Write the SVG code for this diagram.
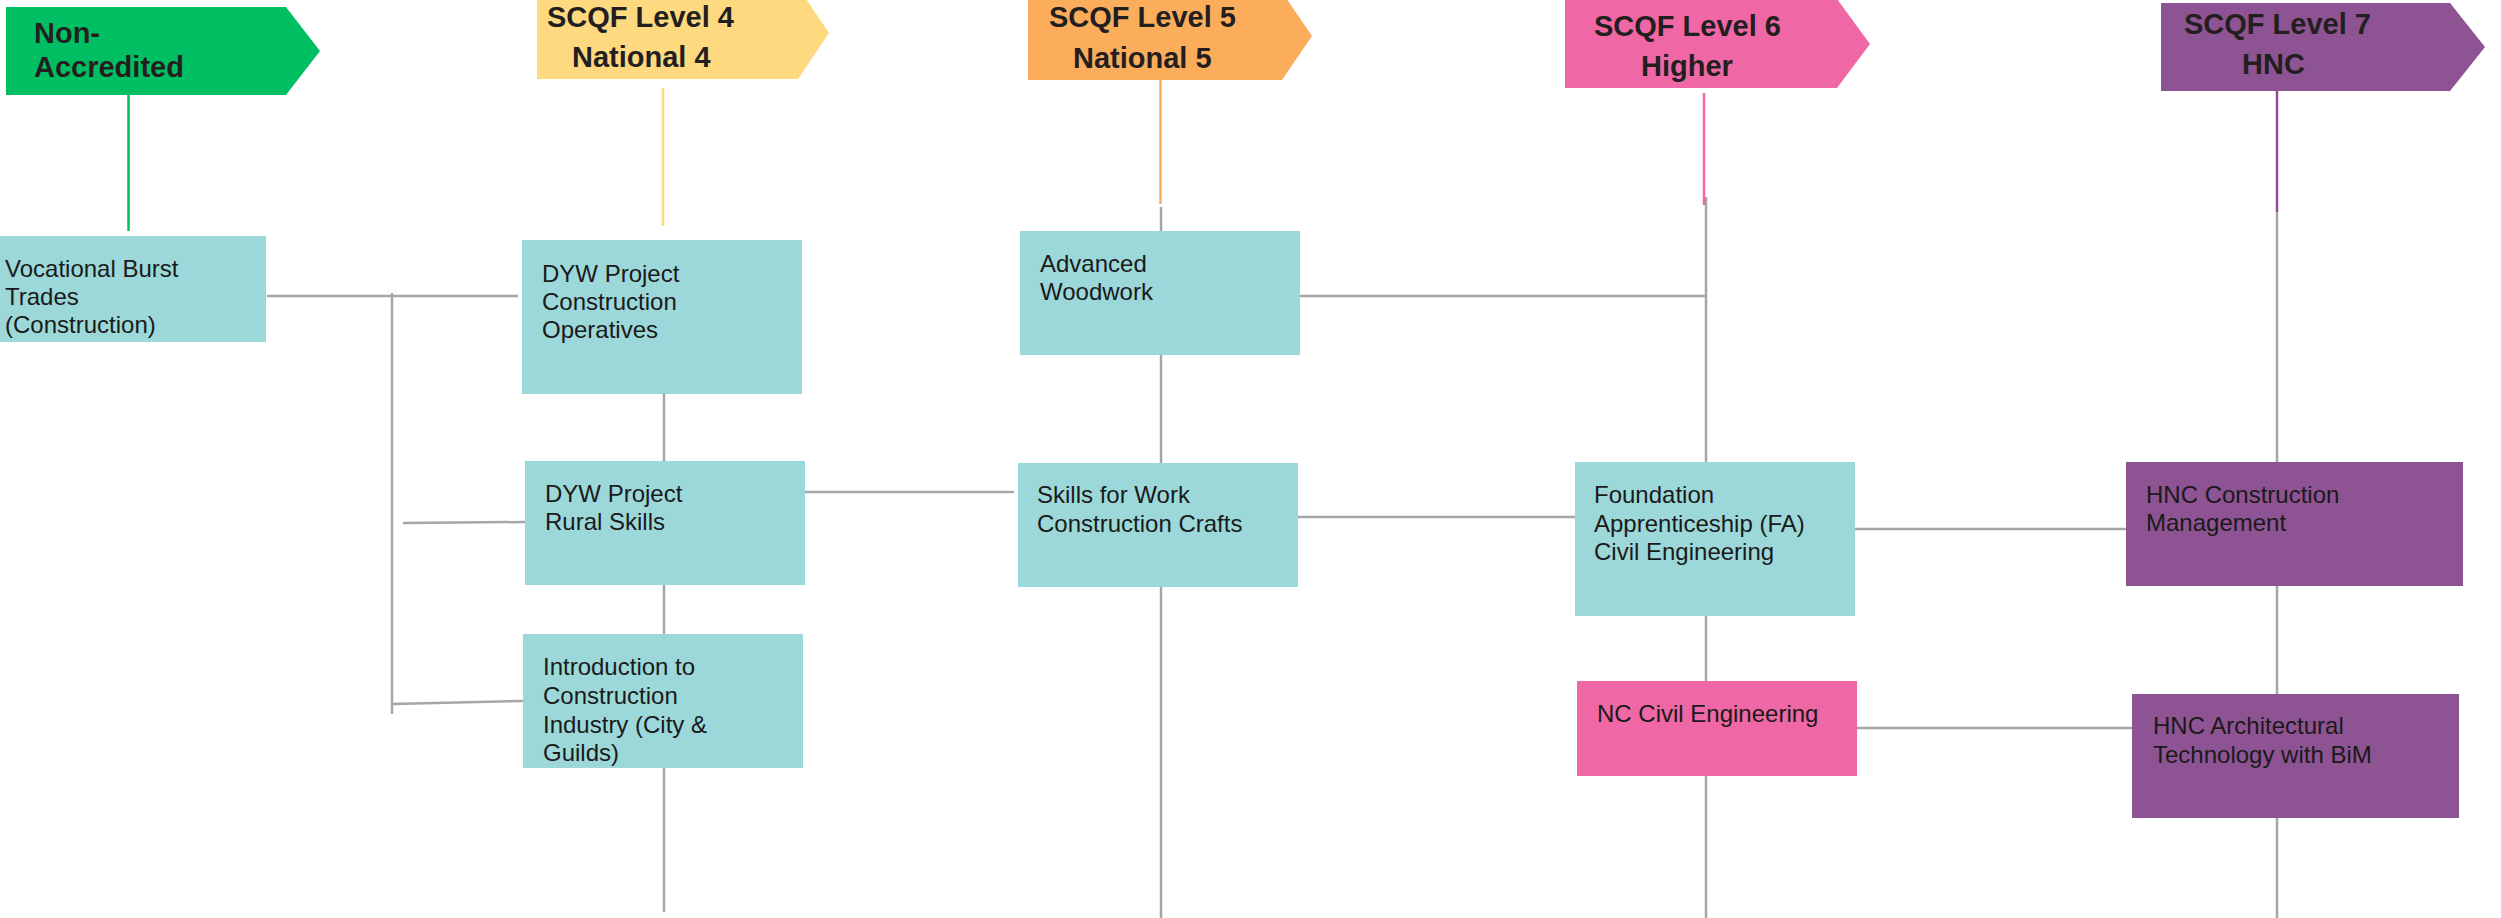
<svg xmlns="http://www.w3.org/2000/svg" width="2501" height="918" viewBox="0 0 2501 918">
<style>
.hd{font-family:"Liberation Sans",Arial,sans-serif;font-weight:bold;font-size:29px;fill:#231f20}
.lb{font-family:"Liberation Sans",Arial,sans-serif;font-size:24px;fill:#1a1a1a}
.gl{stroke:#a6a6a6;stroke-width:2.5;fill:none}
.teal{fill:#9cd8d9}
.pink{fill:#ef67a4}
.purp{fill:#8e5393}
</style>
<rect width="2501" height="918" fill="#ffffff"/>
<g id="connectors">
<line class="gl" x1="392" y1="293" x2="392" y2="714"/>
<line class="gl" x1="664" y1="394" x2="664" y2="912"/>
<line class="gl" x1="1161" y1="207" x2="1161" y2="918"/>
<line class="gl" x1="1706" y1="197" x2="1706" y2="918"/>
<line class="gl" x1="2277" y1="212" x2="2277" y2="918"/>
<line class="gl" x1="267" y1="296" x2="518" y2="296"/>
<line class="gl" x1="403" y1="523" x2="525" y2="522"/>
<line class="gl" x1="393" y1="704" x2="523" y2="701"/>
<line class="gl" x1="805" y1="492" x2="1014" y2="492"/>
<line class="gl" x1="1300" y1="296" x2="1706" y2="296"/>
<line class="gl" x1="1298" y1="517" x2="1575" y2="517"/>
<line class="gl" x1="1855" y1="529" x2="2127" y2="529"/>
<line class="gl" x1="1856" y1="728" x2="2132" y2="728"/>
<line stroke="#00bf63" stroke-width="2.5" x1="128.5" y1="95" x2="128.5" y2="231"/>
<line stroke="#fed97f" stroke-width="2.5" x1="663" y1="88" x2="663" y2="226"/>
<line stroke="#fbad5c" stroke-width="2.5" x1="1160.5" y1="80" x2="1160.5" y2="204"/>
<line stroke="#ef67a4" stroke-width="2.5" x1="1704" y1="93" x2="1704" y2="205"/>
<line stroke="#8e4f94" stroke-width="2.5" x1="2277" y1="91" x2="2277" y2="212"/>
</g>
<g id="hdr-nonacc">
<polygon points="6,7 286,7 320,51 286,95 6,95" fill="#00bf63"/>
<text class="hd" x="34" y="43">Non-</text>
<text class="hd" x="34" y="77">Accredited</text>
</g>
<g id="hdr-l4">
<polygon points="537,-13 798,-13 829,33 798,79 537,79" fill="#fed97f"/>
<text class="hd" x="547" y="27">SCQF Level 4</text>
<text class="hd" x="572" y="67">National 4</text>
</g>
<g id="hdr-l5">
<polygon points="1028,-8 1282,-8 1312,36 1282,80 1028,80" fill="#fbad5c"/>
<text class="hd" x="1049" y="27">SCQF Level 5</text>
<text class="hd" x="1073" y="68">National 5</text>
</g>
<g id="hdr-l6">
<polygon points="1565,-1 1837,-1 1870,44 1837,88 1565,88" fill="#ef67a4"/>
<text class="hd" x="1594" y="36">SCQF Level 6</text>
<text class="hd" x="1641" y="76">Higher</text>
</g>
<g id="hdr-l7">
<polygon points="2161,3 2450,3 2485,47 2450,91 2161,91" fill="#8e5393"/>
<text class="hd" x="2184" y="34">SCQF Level 7</text>
<text class="hd" x="2242" y="74">HNC</text>
</g>
<g id="n-vocational">
<rect class="teal" x="0" y="236" width="266" height="106"/>
<text class="lb" x="5" y="277" font-size="23">Vocational Burst</text>
<text class="lb" x="5" y="305" font-size="23">Trades</text>
<text class="lb" x="5" y="333" font-size="23">(Construction)</text>
</g>
<g id="n-dyw-construction">
<rect class="teal" x="522" y="240" width="280" height="154"/>
<text class="lb" x="542" y="282">DYW Project</text>
<text class="lb" x="542" y="310">Construction</text>
<text class="lb" x="542" y="338">Operatives</text>
</g>
<g id="n-dyw-rural">
<rect class="teal" x="525" y="461" width="280" height="124"/>
<text class="lb" x="545" y="502">DYW Project</text>
<text class="lb" x="545" y="530">Rural Skills</text>
</g>
<g id="n-intro">
<rect class="teal" x="523" y="634" width="280" height="134"/>
<text class="lb" x="543" y="675">Introduction to</text>
<text class="lb" x="543" y="704">Construction</text>
<text class="lb" x="543" y="733">Industry (City &amp;</text>
<text class="lb" x="543" y="761">Guilds)</text>
</g>
<g id="n-advanced-woodwork">
<rect class="teal" x="1020" y="231" width="280" height="124"/>
<text class="lb" x="1040" y="272">Advanced</text>
<text class="lb" x="1040" y="300">Woodwork</text>
</g>
<g id="n-skills-for-work">
<rect class="teal" x="1018" y="463" width="280" height="124"/>
<text class="lb" x="1037" y="503">Skills for Work</text>
<text class="lb" x="1037" y="532">Construction Crafts</text>
</g>
<g id="n-foundation">
<rect class="teal" x="1575" y="462" width="280" height="154"/>
<text class="lb" x="1594" y="503">Foundation</text>
<text class="lb" x="1594" y="532">Apprenticeship (FA)</text>
<text class="lb" x="1594" y="560">Civil Engineering</text>
</g>
<g id="n-nc-civil">
<rect class="pink" x="1577" y="681" width="280" height="95"/>
<text class="lb" x="1597" y="722">NC Civil Engineering</text>
</g>
<g id="n-hnc-construction">
<rect class="purp" x="2126" y="462" width="337" height="124"/>
<text class="lb" x="2146" y="503">HNC Construction</text>
<text class="lb" x="2146" y="531">Management</text>
</g>
<g id="n-hnc-arch">
<rect class="purp" x="2132" y="694" width="327" height="124"/>
<text class="lb" x="2153" y="734">HNC Architectural</text>
<text class="lb" x="2153" y="763">Technology with BiM</text>
</g>
</svg>
